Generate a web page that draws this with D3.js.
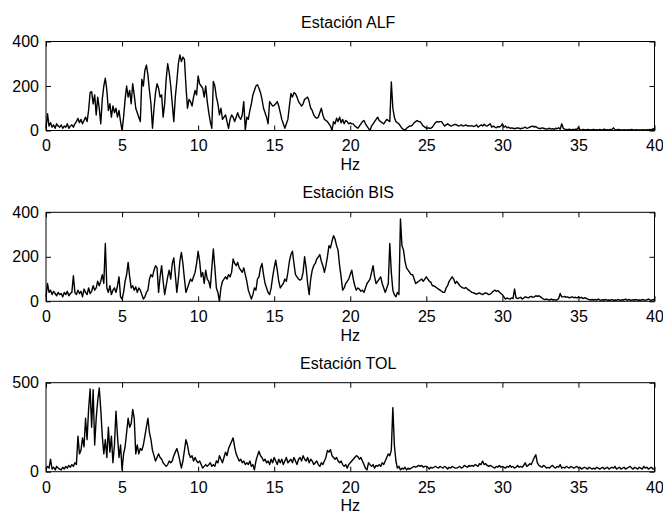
<!DOCTYPE html>
<html>
<head>
<meta charset="utf-8">
<script src="https://cdn.jsdelivr.net/npm/d3@7"></script>
<style>
  body { margin: 0; background: #fff; }
  svg text { font-family: "Liberation Sans", Arial, sans-serif; }
</style>
</head>
<body>
<svg id="chart" width="663" height="516"></svg>
<script>
// Amplitude spectra, sampled every freqStep Hz from 0 to 40 Hz
const freqStep = 0.1;
const xTicks = [0, 5, 10, 15, 20, 25, 30, 35, 40];
const stationNames = ["ALF", "BIS", "TOL"];
const yMaxes = [400, 400, 500];
const yTickSets = [[0, 200, 400], [0, 200, 400], [0, 500]];

const alf = [
  10, 75, 20, 35, 15, 25, 10, 30, 20, 15,
  25, 10, 20, 15, 30, 10, 20, 25, 15, 30,
  40, 55, 35, 50, 30, 45, 60, 40, 90, 170,
  175, 120, 160, 70, 150, 100, 30, 140, 200, 235,
  180, 90, 120, 60, 110, 80, 100, 60, 90, 40,
  0, 60, 140, 200, 150, 180, 120, 210, 160, 100,
  80, 60, 40, 230, 200, 270, 294, 250, 180, 120,
  10, 100, 170, 210, 190, 150, 160, 60, 120, 230,
  300, 260, 200, 120, 40, 150, 220, 300, 340, 310,
  330, 320, 200, 100, 140, 130, 110, 150, 180, 160,
  245, 210, 200, 190, 150, 200, 130, 80, 40, 10,
  220, 200, 150, 120, 70, 100, 50, 60, 70, 40,
  10, 50, 70, 60, 40, 60, 80, 60, 50, 70,
  130, 0, 60, 50, 90, 120, 160, 180, 200, 206,
  190, 170, 140, 100, 80, 60, 30, 130, 120, 110,
  113, 120, 130, 110, 80, 50, 30, 10, 30, 50,
  110, 166, 150, 170, 165, 150, 130, 120, 110, 120,
  140, 145, 150, 130, 100, 90, 70, 60, 55, 60,
  80, 100, 70, 50, 45, 40, 30, 20, 0, 40,
  30, 55, 40, 60, 35, 50, 30, 45, 40, 30,
  35, 30, 30, 20, 15, 10, 20, 30, 40, 45,
  30, 20, 10, 0, 20, 30, 40, 50, 60, 45,
  40, 35, 30, 40, 50, 45, 40, 218, 100, 60,
  40, 35, 30, 20, 10, 5, 0, 10, 15, 20,
  20, 25, 35, 40, 45, 40, 40, 30, 20, 15,
  10, 12, 10, 10, 15, 25, 35, 40, 38, 40,
  40, 30, 20, 25, 30, 25, 20, 22, 25, 28,
  25, 20, 22, 25, 20, 22, 25, 20, 22, 20,
  22, 18, 20, 25, 15, 20, 25, 20, 28, 22,
  20, 25, 30, 15, 20, 15, 12, 18, 15, 20,
  30, 15, 20, 12, 15, 10, 12, 10, 8, 10,
  12, 10, 8, 10, 12, 15, 10, 12, 15, 18,
  20, 15, 18, 12, 10, 8, 12, 10, 8, 6,
  8, 10, 6, 8, 5, 10, 8, 12, 6, 30,
  10, 6, 5, 4, 6, 3, 5, 4, 6, 5,
  15, 4, 3, 5, 4, 3, 5, 4, 3, 4,
  5, 3, 4, 2, 5, 3, 4, 6, 3, 4,
  3, 5, 4, 12, 4, 3, 5, 4, 3, 2,
  4, 3, 2, 4, 3, 5, 3, 2, 4, 3,
  3, 2, 4, 3, 2, 4, 3, 5, 3, 8,
  4
];

const bis = [
  20, 80, 40, 50, 30, 45, 35, 25, 40, 30,
  35, 20, 40, 30, 45, 25, 35, 40, 115, 40,
  30, 50, 35, 45, 20, 55, 40, 30, 60, 35,
  45, 70, 50, 60, 90, 70, 90, 120, 80, 260,
  60, 40, 70, 30, 50, 60, 40, 70, 110, 20,
  10, 40, 90, 120, 175, 110, 60, 70, 50, 65,
  40, 60, 50, 30, 10, 20, 40, 50, 100, 120,
  110, 140, 160, 150, 40, 110, 160, 90, 30, 70,
  110, 140, 100, 170, 195, 120, 40, 100, 180, 220,
  170, 100, 40, 60, 80, 100, 90, 110, 130, 170,
  225, 180, 110, 130, 80, 140, 100, 90, 60, 150,
  235, 150, 60, 40, 0, 60, 90, 100, 110, 100,
  120, 110, 130, 190, 170, 160, 175, 150, 140, 130,
  150, 120, 90, 50, 30, 10, 30, 60, 50, 100,
  110, 150, 170, 120, 80, 60, 40, 30, 60, 110,
  150, 185, 140, 90, 60, 70, 80, 100, 90, 130,
  180, 210, 225, 170, 120, 110, 100, 95, 100, 130,
  200, 150, 80, 30, 100, 140, 160, 170, 190, 200,
  210, 180, 160, 130, 160, 200, 250, 240, 270, 295,
  280, 250, 230, 160, 110, 50, 60, 80, 90, 100,
  120, 140, 100, 70, 50, 60, 55, 45, 50, 40,
  60, 80, 90, 100, 130, 160, 110, 80, 90, 100,
  110, 80, 60, 40, 60, 80, 260, 130, 50, 30,
  20, 40, 30, 370, 250, 230, 180, 150, 140, 130,
  120, 120, 100, 80, 85, 90, 95, 100, 90, 100,
  110, 100, 90, 85, 70, 70, 65, 60, 55, 50,
  45, 40, 40, 60, 70, 90, 100, 110, 100, 80,
  90, 80, 70, 65, 60, 58, 62, 55, 50, 45,
  40, 38, 35, 32, 35, 38, 33, 30, 35, 38,
  35, 30, 32, 38, 45, 50, 45, 48, 42, 35,
  30, 20, 10, 15, 12, 10, 15, 12, 55, 15,
  12, 15, 18, 10, 15, 20, 18, 15, 20, 22,
  18, 20, 25, 22, 25, 20, 15, 10, 8, 10,
  8, 5, 10, 6, 8, 5, 7, 12, 35, 20,
  20, 22, 18, 20, 15, 18, 20, 16, 18, 15,
  20, 15, 18, 12, 16, 14, 10, 8, 6, 8,
  6, 8, 5, 10, 6, 5, 7, 6, 8, 5,
  6, 5, 8, 4, 6, 5, 8, 6, 5, 7,
  6, 10, 5, 8, 6, 5, 7, 6, 8, 5,
  6, 5, 8, 6, 5, 7, 10, 6, 5, 8,
  6
];

const tol = [
  15, 30, 20, 70, 15, 25, 10, 30, 20, 15,
  10, 25, 15, 30, 20, 35, 25, 40, 30, 50,
  40, 200, 100, 120, 190, 140, 300, 180, 350, 465,
  250, 460, 150, 300, 400, 470, 350, 200, 100, 180,
  80, 250, 110, 200, 50, 150, 340, 200, 80, 150,
  10, 100, 140, 220, 300, 250, 270, 350, 300, 100,
  150, 100, 130, 120, 150, 200, 250, 300, 220, 180,
  120, 90, 60, 80, 100, 80, 70, 50, 40, 30,
  40, 60, 50, 60, 90, 110, 130, 100, 60, 20,
  60, 120, 180, 150, 100, 80, 90, 60, 80, 60,
  50, 60, 40, 20, 30, 40, 30, 40, 50, 30,
  40, 30, 60, 50, 90, 70, 50, 80, 110, 90,
  130, 150, 170, 190, 140, 100, 80, 60, 70, 50,
  60, 40, 50, 40, 60, 30, 40, 10, 60, 90,
  115, 90, 80, 60, 70, 50, 60, 40, 70, 50,
  80, 60, 40, 70, 50, 70, 40, 60, 80, 50,
  60, 70, 50, 80, 60, 40, 70, 80, 60, 90,
  70, 60, 80, 50, 70, 60, 40, 50, 60, 40,
  30, 50, 40, 60, 80, 120, 110, 124, 90, 80,
  70, 80, 60, 50, 60, 40, 30, 40, 20, 40,
  50, 60, 70, 80, 90, 85, 70, 80, 60, 40,
  20, 10, 50, 40, 30, 40, 20, 35, 30, 40,
  30, 50, 40, 60, 80, 100, 90, 120, 360, 150,
  60, 20, 30, 10, 20, 15, 25, 10, 20, 15,
  20, 25, 30, 25, 30, 35, 30, 35, 25, 30,
  30, 25, 15, 25, 20, 25, 30, 25, 20, 30,
  25, 20, 30, 25, 15, 25, 20, 30, 25, 20,
  20, 25, 30, 20, 25, 35, 30, 25, 35, 30,
  35, 30, 40, 35, 30, 45, 40, 60, 40, 45,
  35, 30, 35, 30, 25, 20, 30, 25, 35, 25,
  30, 25, 20, 30, 25, 35, 25, 30, 20, 25,
  35, 25, 30, 25, 35, 50, 30, 35, 45, 40,
  60, 80, 95, 50, 35, 30, 25, 35, 30, 20,
  25, 20, 30, 35, 25, 20, 30, 25, 40, 20,
  25, 20, 30, 25, 20, 30, 25, 20, 25, 30,
  20, 25, 15, 20, 25, 20, 15, 25, 20, 15,
  20, 15, 25, 20, 15, 20, 25, 15, 20, 25,
  15, 20, 25, 20, 30, 15, 20, 25, 15, 20,
  25, 15, 20, 25, 30, 20, 15, 25, 20, 15,
  25, 20, 15, 30, 20, 25, 15, 20, 25, 15,
  15
];

const spectra = [alf, bis, tol];

// Layout of the three stacked axes
const left = 46, right = 654.5;
const panelTops = [41.5, 212.3, 382.7];
const panelHeight = 89;
const tickLen = 5;
const fontSize = 16;

const svg = d3.select("#chart");
const x = d3.scaleLinear().domain([0, 40]).range([left, right]);

function styleAxis(g) {
  g.attr("font-size", fontSize)
   .attr("font-family", "Liberation Sans, Arial, sans-serif");
  g.select(".domain").remove();
  g.selectAll(".tick line").attr("stroke", "#000");
  g.selectAll(".tick text").attr("fill", "#000");
}

spectra.forEach((values, k) => {
  const top = panelTops[k];
  const bottom = top + panelHeight;
  const y = d3.scaleLinear().domain([0, yMaxes[k]]).range([bottom, top]);
  const g = svg.append("g");

  // spectrum trace
  const line = d3.line()
    .x((d, i) => x(i * freqStep))
    .y(d => y(d));
  g.append("path")
    .datum(values)
    .attr("fill", "none")
    .attr("stroke", "#000")
    .attr("stroke-width", 1.4)
    .attr("stroke-linejoin", "round")
    .attr("d", line);

  // axes box
  g.append("rect")
    .attr("x", left).attr("y", top)
    .attr("width", right - left).attr("height", panelHeight)
    .attr("fill", "none").attr("stroke", "#000").attr("stroke-width", 1);

  // inward ticks on all four sides, labels on bottom and left
  g.append("g").attr("transform", `translate(0,${bottom})`)
    .call(d3.axisBottom(x).tickValues(xTicks).tickSizeInner(-tickLen).tickSizeOuter(0).tickPadding(9.5).tickFormat(d3.format("d")))
    .call(styleAxis);
  g.append("g").attr("transform", `translate(0,${top})`)
    .call(d3.axisTop(x).tickValues(xTicks).tickSizeInner(-tickLen).tickSizeOuter(0).tickFormat(""))
    .call(styleAxis);
  g.append("g").attr("transform", `translate(${left},0)`)
    .call(d3.axisLeft(y).tickValues(yTickSets[k]).tickSizeInner(-tickLen).tickSizeOuter(0).tickPadding(7).tickFormat(d3.format("d")))
    .call(styleAxis);
  g.append("g").attr("transform", `translate(${right},0)`)
    .call(d3.axisRight(y).tickValues(yTickSets[k]).tickSizeInner(-tickLen).tickSizeOuter(0).tickFormat(""))
    .call(styleAxis);

  // title and axis label
  g.append("text")
    .attr("x", (left + right) / 2 - 2).attr("y", top - 14)
    .attr("text-anchor", "middle").attr("font-size", fontSize)
    .text("Estación " + stationNames[k]);
  g.append("text")
    .attr("x", (left + right) / 2).attr("y", bottom + 39.5)
    .attr("text-anchor", "middle").attr("font-size", fontSize)
    .text("Hz");
});
</script>
</body>
</html>
